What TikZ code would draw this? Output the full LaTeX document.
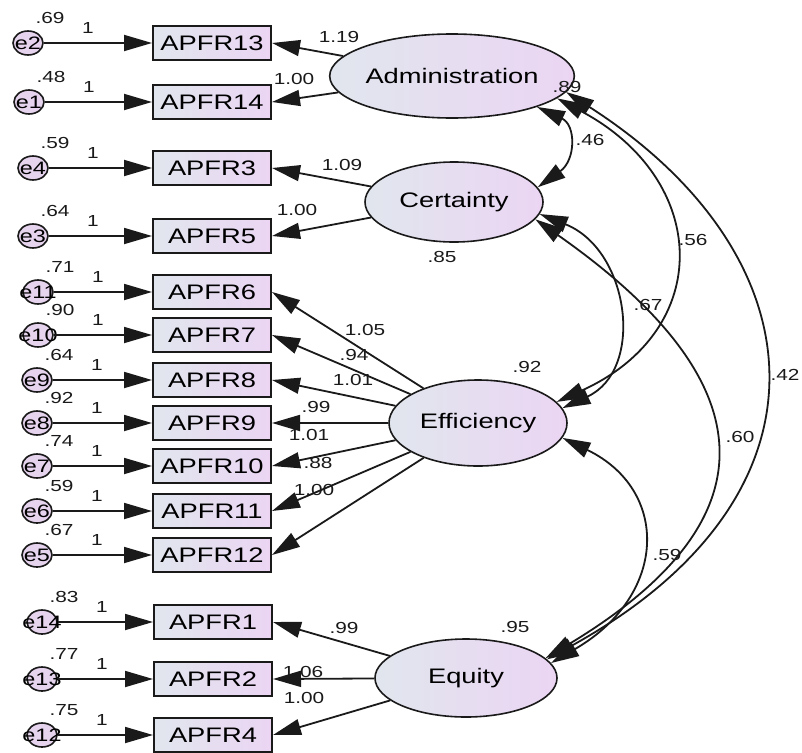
\documentclass[tikz,border=0pt]{standalone}
\usepackage{fontspec}
\setmainfont{Liberation Sans}[FakeStretch=1.3]
\usetikzlibrary{shapes.geometric,arrows.meta}
\definecolor{fillL}{HTML}{E1E6EE}
\definecolor{fillR}{HTML}{EBD5F3}
\definecolor{errfill}{HTML}{E6D3EE}
\definecolor{ink}{HTML}{1A1A1A}
\begin{document}
\begin{tikzpicture}[x=1pt,y=-1pt,
  obs/.style={draw=ink,line width=2pt,left color=fillL,right color=fillR,minimum width=118pt,minimum height=34pt,inner sep=0pt,font=\fontsize{21}{24}\selectfont},
  lat/.style={ellipse,draw=ink,line width=1.6pt,left color=fillL,right color=fillR,inner sep=0pt,font=\fontsize{21}{24}\selectfont},
  errc/.style={ellipse,draw=ink,line width=1.6pt,fill=errfill,minimum width=30pt,minimum height=24pt,inner sep=0pt},
  errt/.style={inner sep=0pt,font=\fontsize{18}{20}\selectfont},
  num/.style={inner sep=0pt,font=\fontsize{16}{18}\selectfont,text=ink},
  arr/.style={line width=1.8pt,draw=ink,-{Triangle[length=28pt,width=16pt]}},
  cov/.style={line width=1.8pt,draw=ink,{Triangle[length=28pt,width=16pt]}-{Triangle[length=28pt,width=16pt]}}
]
\useasboundingbox (0,0) rectangle (802,752);
\fill[white] (0,0) rectangle (802,752);

% observed boxes
\foreach \nm/\lab/\x/\y in {b13/APFR13/212/43, b14/APFR14/212/102, b3/APFR3/212/168, b5/APFR5/212/236,
  b6/APFR6/212/292, b7/APFR7/212/335, b8/APFR8/212/380, b9/APFR9/212/423, b10/APFR10/212/466,
  b11/APFR11/212/511, b12/APFR12/212/555, b1/APFR1/213/622, b2/APFR2/213/679, b4/APFR4/213/735}
  {\node[obs] (\nm) at (\x,\y) {\lab};}

% latent variables
\node[lat,minimum width=184pt,minimum height=84pt] (adm) at (452,76) {Administration};
\node[lat,minimum width=178pt,minimum height=80pt] (cert) at (454,202) {Certainty};
\node[lat,minimum width=178pt,minimum height=86pt] (eff) at (478,423) {Efficiency};
\node[lat,minimum width=182pt,minimum height=78pt] (equ) at (466,678) {Equity};

% errors
\foreach \nm/\x/\y/\var/\tgt in {e2/28/43/.69/b13, e1/29/102/.48/b14, e4/33/168/.59/b3, e3/33/236/.64/b5,
  e11/38/292/.71/b6, e10/38/335/.90/b7, e9/37/380/.64/b8, e8/37/423/.92/b9, e7/37/466/.74/b10,
  e6/37/511/.59/b11, e5/37/555/.67/b12, e14/42/622/.83/b1, e13/42/679/.77/b2, e12/42/735/.75/b4}
  {\node[errc] (\nm) at (\x,\y) {};
   \node[errt] at (\nm) {\nm};
   \node[num] at (\x+22,\y-25) {\var};
   \node[num] at (\x+60,\y-15) {1};
   \draw[arr] (\nm) -- (\tgt.west);}

% loadings
\draw[arr] (adm) -- (b13.east);
\draw[arr] (adm) -- (b14.east);
\draw[arr] (cert) -- (b3.east);
\draw[arr] (cert) -- (b5.east);
\foreach \t in {b6,b7,b8,b9,b10,b11,b12} {\draw[arr] (eff) -- (\t.east);}
\draw[arr] (equ) -- (b1.east);
\draw[arr] (equ) -- (b2.east);
\draw[arr] (equ) -- (b4.east);

\node[num] at (339,37) {1.19};
\node[num] at (294,79) {1.00};
\node[num] at (342,165) {1.09};
\node[num] at (297,210) {1.00};
\node[num] at (365,330) {1.05};
\node[num] at (354,355) {.94};
\node[num] at (353,380) {1.01};
\node[num] at (316,407) {.99};
\node[num] at (309,435) {1.01};
\node[num] at (318,463) {.88};
\node[num] at (314,490) {1.00};
\node[num] at (344,628) {.99};
\node[num] at (303,672) {1.06};
\node[num] at (304,698) {1.00};

% latent variances
\node[num] at (567,87) {.89};
\node[num] at (442,257) {.85};
\node[num] at (527,367) {.92};
\node[num] at (515,627) {.95};

% covariances
\draw[cov] (adm.-20) .. controls (576,125) and (576,160) .. (cert.10);
\draw[cov] (adm.-12) .. controls (710,180) and (715,330) .. (eff.15);
\draw[cov] (cert.-8) .. controls (630,250) and (645,370) .. (eff.10);
\draw[cov] (cert.-12) .. controls (746,367) and (795,508) .. (equ.14);
\draw[cov] (adm.-8) .. controls (820,255) and (845,495) .. (equ.13);
\draw[cov] (eff.-10) .. controls (670,490) and (668,595) .. (equ.10);

\node[num] at (590,140) {.46};
\node[num] at (693,240) {.56};
\node[num] at (648,305) {.67};
\node[num] at (740,437) {.60};
\node[num] at (785,375) {.42};
\node[num] at (667,555) {.59};
\end{tikzpicture}
\end{document}
